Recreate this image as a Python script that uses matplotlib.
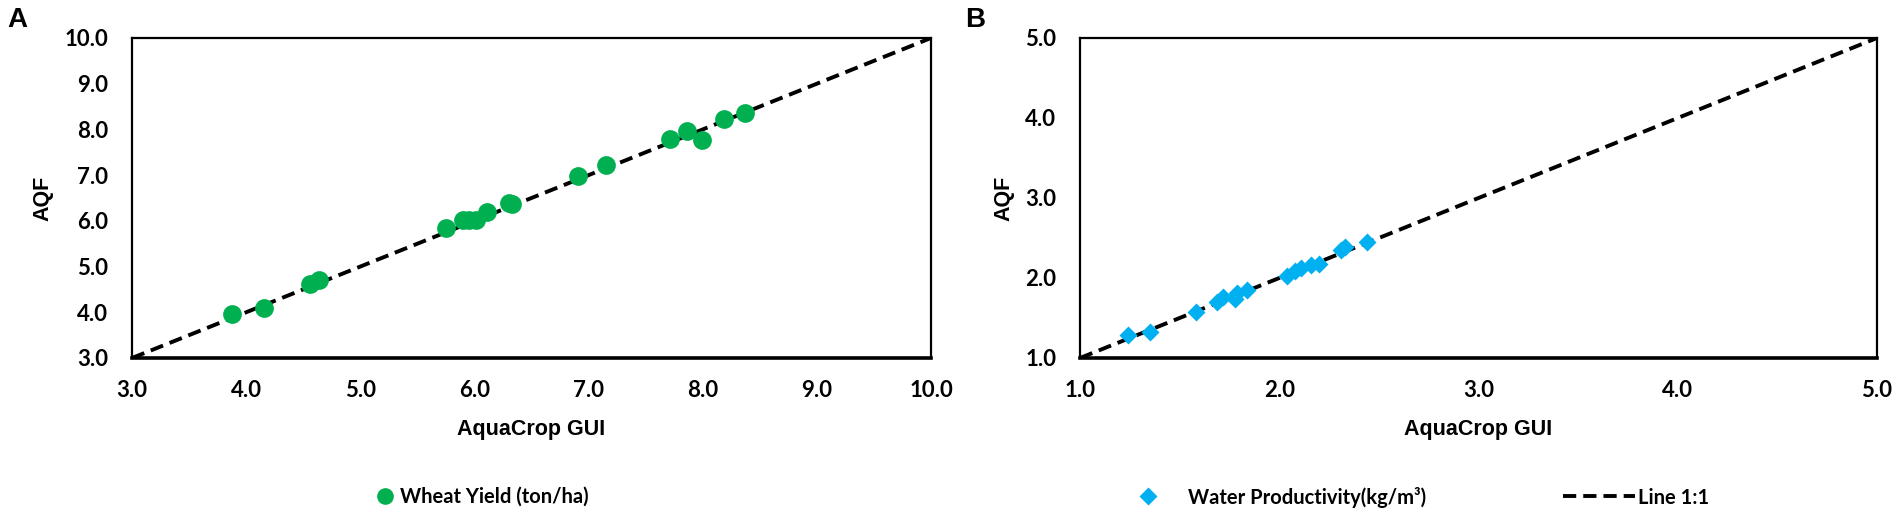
import numpy as np
import matplotlib.pyplot as plt
from matplotlib.lines import Line2D

# panel A - wheat yield (ton/ha)
yield_gui = [3.88, 4.16, 4.56, 4.64, 5.75, 5.90, 5.95, 6.01, 6.11, 6.30, 6.33,
             6.91, 7.15, 7.71, 7.86, 7.99, 8.19, 8.37]
yield_aqf = [3.96, 4.09, 4.62, 4.71, 5.84, 6.01, 6.01, 6.01, 6.19, 6.39, 6.36,
             6.99, 7.23, 7.78, 7.96, 7.77, 8.22, 8.36]

# panel B - water productivity (kg/m3)
wp_gui = [1.24, 1.35, 1.58, 1.69, 1.72, 1.78, 1.79, 1.84, 2.04, 2.08, 2.11,
          2.16, 2.20, 2.31, 2.33, 2.44]
wp_aqf = [1.29, 1.32, 1.575, 1.70, 1.76, 1.74, 1.81, 1.85, 2.03, 2.09, 2.12,
          2.16, 2.17, 2.35, 2.39, 2.45]

lim_a = [3.0, 10.0]
lim_b = [1.0, 5.0]
ticks_a = [3, 4, 5, 6, 7, 8, 9, 10]
ticks_b = [1, 2, 3, 4, 5]

green = '#00B050'
blue = '#00B0F0'
dash = (0, (3.4, 1.8))
tickfont = dict(family='Lato', weight='bold', size=16)
labfont = dict(family='Liberation Sans', weight='bold', size=15.5)

W, H = 1902, 515
fig = plt.figure(figsize=(W / 100, H / 100), dpi=100)

def frame(ax, lim, ticks):
    ax.set_xlim(lim)
    ax.set_ylim(lim)
    ax.set_xticks(ticks)
    ax.set_yticks(ticks)
    ax.set_xticklabels(['%.1f' % t for t in ticks], fontdict=tickfont)
    ax.set_yticklabels(['%.1f' % t for t in ticks], fontdict=tickfont)
    ax.tick_params(length=0)
    ax.tick_params(axis='y', pad=17)
    ax.tick_params(axis='x', pad=16)
    for s in ['top', 'left', 'right']:
        ax.spines[s].set_linewidth(1.6)
    ax.spines['bottom'].set_linewidth(2.6)
    ax.set_xlabel('AquaCrop GUI', fontdict=labfont, labelpad=13)
    ax.set_ylabel('AQF', fontdict=labfont, labelpad=8)
    ax.plot(lim, lim, color='black', lw=2.8, ls=dash, zorder=2)

axA = fig.add_axes([132 / W, 1 - 358 / H, 799 / W, 320 / H])
frame(axA, lim_a, ticks_a)
axA.plot(yield_gui, yield_aqf, 'o', color=green, ms=13.5, mec='none', zorder=3)

axB = fig.add_axes([1080 / W, 1 - 358 / H, 797 / W, 320 / H])
frame(axB, lim_b, ticks_b)
axB.plot(wp_gui, wp_aqf, 'D', color=blue, ms=9, mec='none', zorder=3)

fig.text(7 / W, 1 - 20 / H, 'A', fontsize=20, fontweight='bold', family='Liberation Sans', va='center')
fig.text(965 / W, 1 - 20 / H, 'B', fontsize=20, fontweight='bold', family='Liberation Sans', va='center')

legfont = dict(family='Lato', weight='bold', size=14.5)
hA = [Line2D([], [], ls='none', marker='o', color=green, ms=12, mec='none')]
fig.legend(hA, ['Wheat Yield (ton/ha)'], loc='center left', bbox_to_anchor=(365 / W, 1 - 497 / H),
           frameon=False, prop=legfont, handlelength=1.0, handletextpad=0.25, borderpad=0)
hB = [Line2D([], [], ls='none', marker='D', color=blue, ms=9, mec='none'),
      Line2D([], [], color='black', lw=2.8, ls=dash)]
fig.legend(hB, ['Water Productivity(kg/m³)', 'Line 1:1'], loc='center left',
           bbox_to_anchor=(1102 / W, 1 - 497 / H), ncol=2, frameon=False, prop=legfont,
           handlelength=3.6, handletextpad=0.15, columnspacing=6.8, borderpad=0)

fig.savefig('out.png', dpi=100)
